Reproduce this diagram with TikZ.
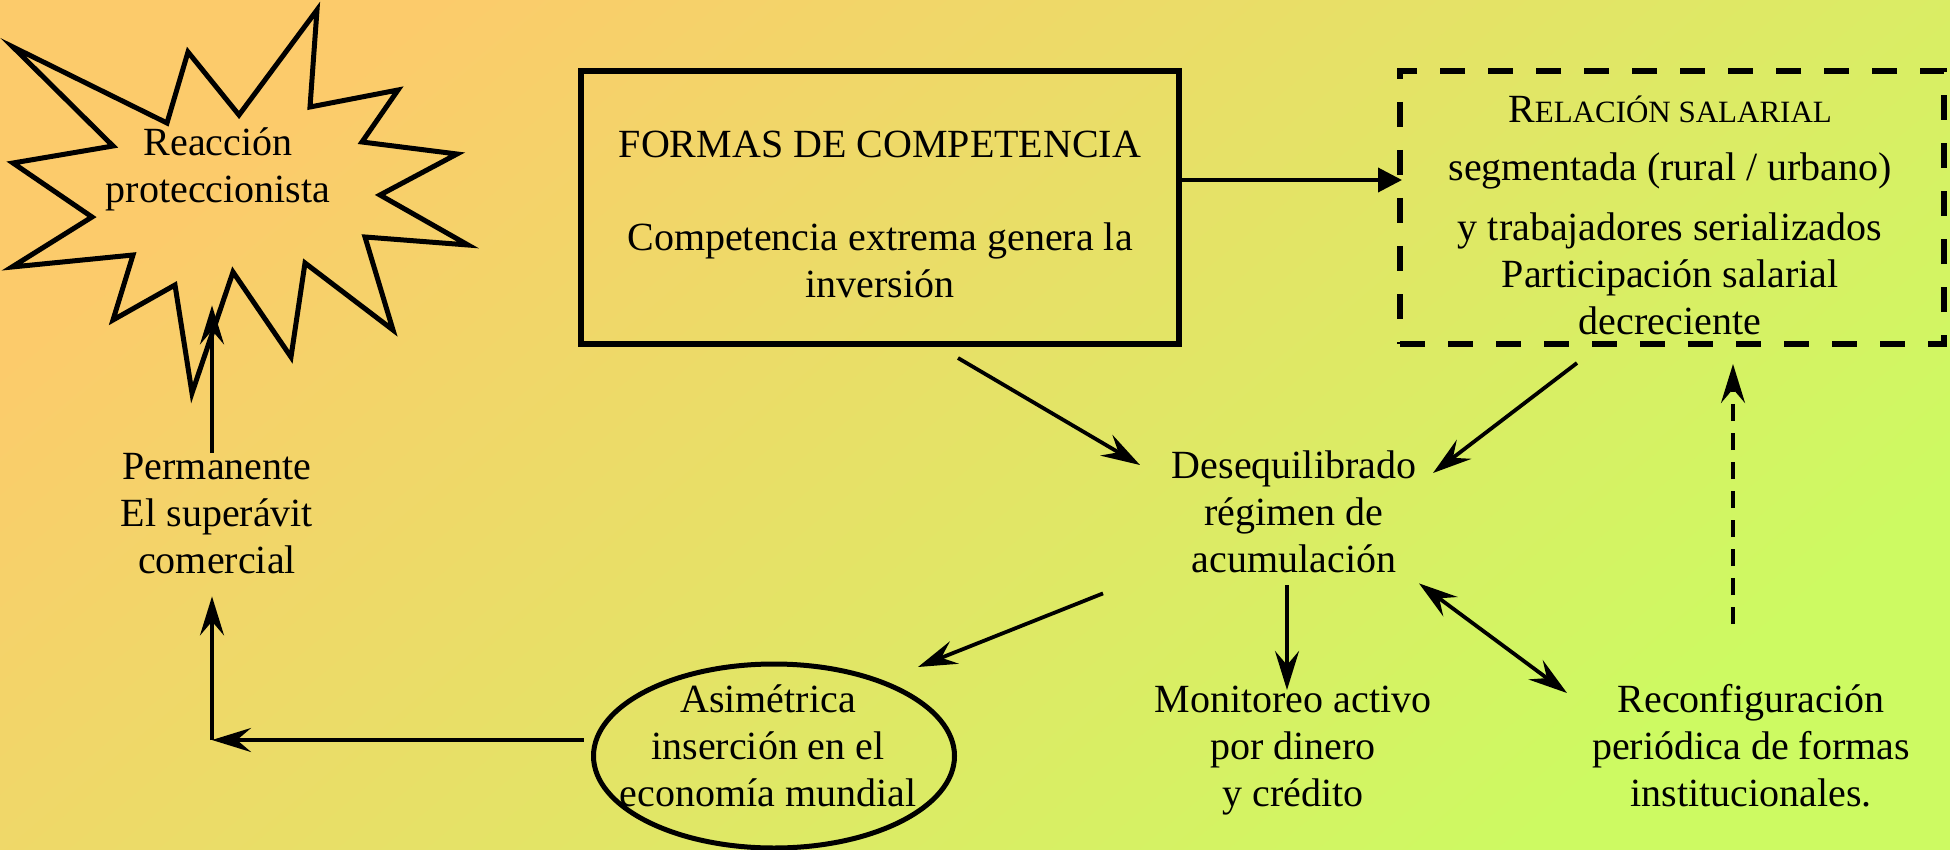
\documentclass[tikz,border=0pt]{standalone}
\usepackage{fontspec}
\setmainfont{Liberation Serif}
\usetikzlibrary{arrows.meta,calc,shapes.geometric}
\definecolor{bgA}{RGB}{252,203,107}
\definecolor{bgB}{RGB}{236,226,101}
\definecolor{bgC}{RGB}{205,250,98}
\tikzset{
  dart/.tip={Stealth[length=39pt,width=24pt,inset=14pt]},
  txt/.style={font=\fontsize{40}{47}\selectfont, align=center, inner sep=0pt, anchor=north},
  arr/.style={line width=3.8pt, -dart},
  darr/.style={line width=3.8pt, dart-dart},
  solidbox/.style={draw, line width=5.5pt, inner sep=0pt, outer sep=0pt, minimum width=598pt, minimum height=273pt},
  dashbox/.style={draw, line width=5.5pt, dash pattern=on 25pt off 23pt, inner sep=0pt, outer sep=0pt, minimum width=544pt, minimum height=273pt},
}
\begin{document}
\begin{tikzpicture}[x=1pt,y=-1pt]
\useasboundingbox (0,0) rectangle (1950,850);
\shade[shading=axis, top color=bgA, middle color=bgB, bottom color=bgC, shading angle=40] (0,0) rectangle (1950,850);

% star
\draw[line width=5pt, line join=miter, miter limit=20]
 (13,47) -- (167,123) -- (188,52) -- (239,115) -- (317,10) -- (310,107) -- (398,90) -- (362,142)
 -- (457,154) -- (380,195) -- (468,245) -- (365,237) -- (393,330) -- (305,263) -- (291,357)
 -- (233,272) -- (192,393) -- (175,285) -- (113,320) -- (133,255) -- (12,267) -- (92,217)
 -- (13,163) -- (113,146) -- cycle;
\node[txt] (reac) at (218,122) {\strut Reacción\\proteccionista\strut};

% boxes
\node[solidbox] (formas) at (880,207.5) {};
\node[txt] (formasT) at (880,124) {\strut FORMAS DE COMPETENCIA\\[46pt]Competencia extrema genera la\\inversión\strut};

\node[dashbox] (relbox) at (1672,207.5) {};
\node[txt] (relT) at (1670,89) {\strut R{\fontsize{31}{47}\selectfont ELACIÓN SALARIAL}\\[11pt]segmentada (rural / urbano)\\[13pt]y trabajadores serializados\\Participación salarial\\decreciente\strut};

% text nodes
\node[txt] (perm) at (217,446) {\strut Permanente\\El superávit\\comercial\strut};
\node[txt] (deseq) at (1294,445) {\strut Desequilibrado\\régimen de\\acumulación\strut};
\node[txt] (monit) at (1293,679) {\strut Monitoreo activo\\por dinero\\y crédito\strut};
\node[txt] (reconf) at (1751,679) {\strut Reconfiguración\\periódica de formas\\institucionales.\strut};

\node[ellipse, draw, line width=5pt, inner sep=0pt, outer sep=0pt, minimum width=361pt, minimum height=184pt] (ell) at (774,756) {};
\node[txt] (asim) at (768,679) {\strut Asimétrica\\inserción en el\\economía mundial\strut};

\coordinate (corner) at (212,740);

% connectors
\draw[line width=3.8pt, -{Triangle[length=24pt,width=24pt]}] ($(formas.east)+(2,-27.5)$) -- ($(relbox.west)+(2,-27.5)$);
\draw[arr] ($(formas.south)+(78,14)$) -- ($(deseq.north)+(-154,20)$);
\draw[arr] ($(relbox.south)+(-95,19)$) -- ($(deseq.north)+(139,28)$);
\draw[arr] ($(deseq.south)+(-191,7)$) -- ($(ell.north)+(144,3)$);
\draw[arr] ($(deseq.south)+(-7,-1)$) -- ($(monit.north)+(-6,11)$);
\draw[darr] ($(deseq.south)+(125,-3)$) -- ($(reconf.north)+(-184,14)$);
\draw[arr, dash pattern=on 17pt off 12pt] ($(reconf.north)+(-18,-55)$) -- ($(relbox.south)+(61,20)$);
\draw[arr] ($(ell.west)+(-10,-16)$) -- (corner);
\draw[arr] (corner) -- ($(perm.south)+(-5,9)$);
\draw[arr] ($(perm.north)+(-5,7)$) -- ($(reac.south)+(-6,89)$);
\end{tikzpicture}
\end{document}
